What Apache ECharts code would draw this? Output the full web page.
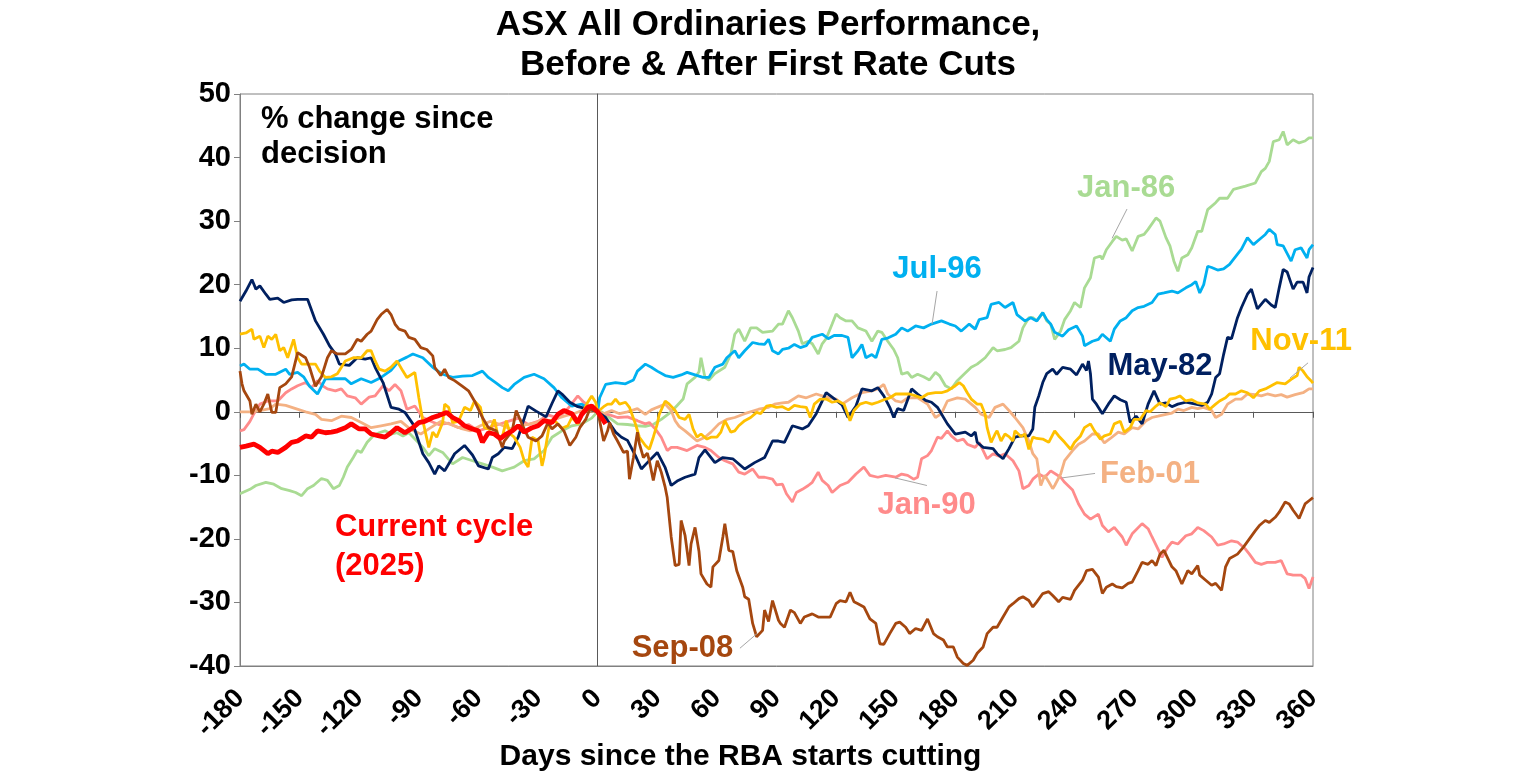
<!DOCTYPE html>
<html><head><meta charset="utf-8">
<script src="https://cdn.jsdelivr.net/npm/echarts@6.0.0/dist/echarts.min.js"></script>
<style>html,body{margin:0;padding:0;background:#fff}#c{width:1536px;height:775px}</style>
</head><body><div id="c"></div>
<script>
// ---------- data (day since first cut, % change since decision) ----------
const xRange = [-180, 360, 30];
const yRange = [-40, 50, 10];

const may82 = [[-180,17.4],[-177,19.0],[-174,20.8],[-172,19.3],[-170,19.8],[-167,18.5],[-165,17.7],[-161,17.9],[-158,17.2],[-154,17.6],[-151,17.7],[-146,17.7],[-142,14.3],[-138,12.2],[-135,10.4],[-132,9.1],[-130,7.5],[-125,7.3],[-121,8.5],[-117,8.3],[-114,8.5],[-112,7.0],[-108,4.6],[-104,0.7],[-100,0.4],[-97,-0.1],[-93,-1.9],[-88,-6.6],[-85,-8.0],[-82,-9.8],[-80,-8.5],[-77,-9.3],[-74,-7.7],[-72,-6.6],[-67,-5.3],[-63,-6.8],[-60,-8.5],[-55,-9.0],[-53,-7.2],[-50,-6.6],[-47,-5.6],[-43,-5.8],[-40,-4.0],[-35,0.9],[-31,0.1],[-26,-0.8],[-23,1.3],[-20,3.3],[-18,2.8],[-14,1.5],[-10,0.8],[-3,0.3],[0,0],[4,-0.9],[9,-3.2],[12,-4.0],[15,-4.5],[19,-6.9],[22,-9.0],[25,-8.0],[30,-6.4],[34,-8.8],[37,-11.6],[40,-10.9],[44,-10.3],[49,-9.8],[51,-7.2],[54,-6.0],[59,-8.0],[63,-7.2],[68,-7.4],[74,-9.0],[79,-8.0],[84,-7.2],[88,-4.6],[91,-4.6],[94,-4.8],[98,-2.2],[103,-2.7],[106,-2.2],[110,-0.3],[115,3.0],[118,2.3],[123,1.1],[126,-0.9],[130,0.9],[133,3.6],[138,3.3],[141,3.8],[144,2.5],[147,0.7],[149,-0.9],[151,0.5],[154,0.2],[158,3.6],[161,2.8],[165,1.8],[168,1.5],[171,0.7],[176,-1.9],[180,-3.5],[185,-3.2],[188,-3.8],[190,-3.2],[191,-4.8],[194,-5.6],[199,-5.8],[201,-6.6],[204,-7.4],[207,-5.8],[210,-4.0],[213,-3.8],[217,-3.8],[219,-2.7],[220,0.7],[222,2.5],[224,4.6],[226,6.0],[229,6.7],[231,5.9],[234,7.0],[238,6.7],[241,5.8],[244,7.5],[246,6.5],[247,8.0],[248,6.0],[249,2.0],[251,1.2],[254,-0.3],[257,1.2],[260,2.5],[263,1.9],[266,1.5],[268,-1.7],[271,-0.7],[274,-1.9],[277,1.2],[280,3.3],[283,1.2],[286,1.4],[289,0.8],[292,1.2],[296,1.5],[301,1.2],[304,1.0],[307,1.5],[309,2.8],[311,5.4],[313,6.0],[315,9.0],[317,11.7],[319,11.5],[322,14.8],[324,16.4],[327,18.5],[329,19.3],[332,16.2],[336,17.7],[339,16.8],[341,16.4],[343,19.5],[345,22.4],[347,22.0],[350,19.3],[352,20.4],[355,20.4],[357,18.7],[358,21.2],[360,22.7]];

const jan86 = [[-180,-12.9],[-175,-12.2],[-172,-11.6],[-167,-11.1],[-163,-11.4],[-159,-12.1],[-155,-12.4],[-152,-12.7],[-149,-13.2],[-146,-12.1],[-143,-11.6],[-139,-10.5],[-136,-10.8],[-133,-12.1],[-130,-11.6],[-128,-10.3],[-126,-8.7],[-123,-7.2],[-121,-6.1],[-119,-6.4],[-116,-4.8],[-113,-3.8],[-110,-3.3],[-107,-3.0],[-104,-3.5],[-101,-3.3],[-98,-3.8],[-95,-3.3],[-91,-4.6],[-88,-5.6],[-85,-6.9],[-82,-5.8],[-78,-6.4],[-73,-8.2],[-68,-7.2],[-63,-7.7],[-58,-8.2],[-53,-8.7],[-48,-9.3],[-45,-9.0],[-42,-8.7],[-37,-7.7],[-32,-7.4],[-27,-6.1],[-23,-4.0],[-18,-3.0],[-13,-2.2],[-8,-1.9],[-3,-1.0],[0,0],[2,0],[7,-1.2],[10,-1.9],[15,-2.0],[20,-2.2],[24,-2.3],[28,-2.0],[32,-1.2],[37,0],[40,1.0],[43,2.0],[45,4.4],[49,5.4],[51,6.3],[52,8.5],[54,5.4],[56,5.0],[59,6.0],[64,7.0],[67,9.1],[69,12.2],[71,13.0],[74,11.1],[77,13.2],[80,13.2],[83,12.5],[88,12.7],[91,13.8],[93,13.8],[96,15.9],[98,14.8],[101,12.7],[103,10.7],[106,11.1],[108,10.7],[111,9.1],[113,10.7],[115,11.5],[118,13.8],[120,15.4],[122,14.8],[125,14.3],[128,14.3],[131,13.2],[135,12.7],[138,11.1],[141,12.7],[143,12.5],[146,11.1],[149,9.8],[151,8.5],[153,5.9],[156,6.2],[158,5.4],[161,5.9],[164,5.5],[167,5.0],[170,6.2],[172,5.7],[175,4.1],[178,3.6],[181,4.9],[185,6.1],[188,7.0],[191,7.5],[195,8.5],[199,10.1],[201,9.6],[205,9.8],[208,10.1],[212,11.1],[214,13.2],[217,14.8],[219,14.8],[221,14.3],[224,15.6],[226,14.3],[228,13.8],[230,11.4],[233,12.7],[235,14.5],[238,15.9],[240,17.2],[243,16.4],[245,19.5],[248,21.1],[250,24.2],[253,24.5],[254,24.0],[256,25.5],[259,26.8],[261,27.6],[264,27.0],[266,27.2],[269,25.3],[272,27.6],[275,27.9],[277,28.7],[281,30.5],[283,30.0],[286,27.4],[288,26.1],[290,23.7],[292,22.1],[294,24.2],[297,24.7],[299,25.8],[302,28.4],[304,28.4],[307,31.8],[311,32.9],[313,33.6],[317,33.6],[320,35.0],[326,35.5],[331,36.0],[334,37.8],[336,38.3],[338,39.4],[340,42.5],[343,42.8],[345,44.1],[347,42.0],[350,42.8],[353,42.3],[356,42.6],[358,43.1],[360,43.1]];

const jan90 = [[-180,-3.0],[-178,-2.8],[-175,-1.5],[-173,-0.3],[-170,1.2],[-166,1.7],[-161,1.7],[-157,3.0],[-154,3.6],[-151,4.1],[-147,4.6],[-144,3.8],[-141,4.9],[-138,4.0],[-136,3.6],[-132,3.3],[-129,3.6],[-126,2.5],[-122,2.2],[-119,1.2],[-115,2.3],[-112,2.5],[-108,4.1],[-105,3.3],[-102,4.3],[-99,3.3],[-96,0.4],[-92,0.9],[-88,-0.9],[-84,-1.5],[-80,-2.0],[-75,-1.8],[-70,-2.5],[-65,-2.0],[-60,-3.0],[-55,-2.5],[-50,-2.0],[-45,-1.5],[-40,-1.0],[-35,-2.0],[-30,-1.5],[-25,-0.5],[-20,-1.0],[-15,0.5],[-10,2.5],[-7,1.5],[-4,0.8],[0,0],[2,-0.2],[6,-0.5],[10,-0.9],[15,-0.8],[20,-1.4],[24,-1.9],[26,-1.7],[29,-2.7],[32,-4.0],[35,-6.1],[37,-5.6],[40,-5.6],[45,-6.1],[50,-5.3],[54,-5.6],[57,-6.1],[61,-7.2],[64,-7.7],[68,-8.2],[71,-9.5],[74,-9.8],[78,-9.0],[81,-10.3],[84,-10.3],[88,-10.6],[90,-11.5],[93,-11.4],[95,-12.9],[98,-14.2],[100,-12.7],[103,-12.2],[106,-11.6],[108,-11.1],[111,-9.5],[113,-10.8],[116,-11.6],[118,-12.7],[122,-11.6],[126,-11.1],[130,-9.8],[134,-8.7],[137,-10.0],[141,-10.3],[145,-10.0],[150,-10.3],[153,-9.8],[156,-10.0],[159,-10.6],[161,-10.3],[163,-7.4],[166,-6.9],[168,-6.1],[171,-4.0],[173,-4.2],[176,-3.0],[178,-3.8],[181,-4.6],[184,-4.3],[186,-5.1],[190,-5.6],[192,-4.8],[196,-7.4],[199,-6.6],[202,-7.0],[205,-6.6],[209,-7.7],[212,-9.3],[214,-12.1],[217,-11.6],[219,-10.6],[222,-9.8],[225,-10.3],[228,-9.3],[233,-10.3],[235,-11.1],[239,-12.3],[242,-14.5],[245,-16.1],[248,-16.9],[252,-16.1],[254,-17.9],[257,-18.9],[260,-18.2],[264,-19.7],[266,-21.0],[269,-19.2],[274,-17.6],[277,-18.4],[279,-19.7],[282,-21.6],[284,-22.9],[287,-21.3],[289,-20.5],[292,-20.8],[296,-19.5],[299,-19.2],[302,-18.2],[305,-18.7],[309,-19.7],[312,-21.0],[315,-20.8],[319,-20.3],[322,-20.5],[326,-21.6],[328,-22.4],[331,-23.7],[334,-24.0],[337,-23.7],[341,-23.7],[344,-23.4],[347,-25.5],[350,-25.7],[354,-25.7],[356,-26.2],[358,-27.8],[360,-26.0]];

const jul96 = [[-180,7.2],[-178,7.5],[-175,6.7],[-171,6.7],[-167,5.9],[-162,5.9],[-157,6.7],[-155,5.9],[-151,6.2],[-148,5.5],[-145,4.0],[-141,2.8],[-137,5.2],[-132,5.2],[-127,5.2],[-124,4.4],[-119,5.2],[-114,4.6],[-109,5.4],[-104,6.5],[-100,8.0],[-96,8.6],[-93,9.1],[-88,8.5],[-83,7.0],[-78,5.9],[-73,5.4],[-68,5.6],[-63,5.7],[-58,6.4],[-55,5.4],[-51,4.5],[-48,3.8],[-45,3.3],[-42,4.3],[-37,5.4],[-32,5.9],[-27,5.2],[-22,3.8],[-18,2.2],[-13,0.9],[-8,1.2],[-3,0.3],[0,0],[1,2.2],[4,4.3],[9,4.6],[14,4.4],[18,5.0],[20,6.4],[24,7.5],[27,7.0],[30,6.4],[34,5.7],[38,5.4],[42,5.8],[45,6.2],[49,5.8],[53,5.4],[56,5.4],[59,7.0],[63,7.5],[65,8.5],[69,9.6],[71,8.5],[74,9.6],[78,10.9],[81,10.7],[84,10.6],[86,11.4],[88,9.6],[91,9.1],[93,9.8],[96,10.0],[99,10.6],[102,10.1],[105,10.4],[108,11.7],[113,12.2],[116,11.5],[119,12.0],[123,12.0],[126,11.7],[128,8.5],[131,9.6],[133,10.6],[135,8.5],[138,9.0],[140,8.5],[143,11.4],[146,11.6],[150,12.2],[153,13.2],[156,12.7],[160,13.5],[164,13.2],[168,13.8],[173,14.3],[177,13.8],[180,13.5],[183,12.7],[187,13.8],[190,13.0],[192,14.5],[196,14.8],[198,16.9],[202,17.2],[205,16.4],[209,17.2],[211,15.3],[215,14.3],[218,14.8],[221,14.3],[224,15.6],[226,14.5],[228,13.8],[230,12.5],[234,11.9],[237,12.9],[241,13.5],[244,11.9],[245,10.4],[249,11.1],[252,11.4],[254,12.2],[258,11.1],[260,13.0],[263,14.3],[266,14.8],[269,15.9],[272,16.4],[275,16.6],[279,17.2],[282,18.5],[285,18.7],[289,19.0],[292,18.7],[296,19.5],[299,20.0],[301,20.5],[303,18.7],[305,20.0],[307,22.9],[309,22.7],[312,22.3],[315,22.5],[318,23.2],[322,24.8],[324,25.6],[327,27.4],[330,26.3],[333,27.1],[336,27.9],[338,28.7],[341,27.9],[342,26.3],[345,26.1],[349,23.7],[351,25.5],[354,25.8],[357,24.2],[358,25.5],[360,26.3]];

const feb01 = [[-180,0],[-175,0],[-170,0.2],[-165,0.5],[-162,1.2],[-157,1.0],[-152,0.5],[-147,0],[-142,-0.4],[-139,-1.2],[-134,-1.4],[-129,-0.7],[-124,-0.9],[-119,-1.7],[-114,-2.5],[-109,-2.2],[-104,-1.9],[-99,-1.5],[-94,-2.8],[-89,-3.5],[-84,-2.5],[-79,-1.5],[-74,-2.0],[-69,-2.6],[-64,-3.0],[-59,-2.2],[-54,-1.5],[-49,-2.0],[-44,-2.7],[-39,-2.2],[-34,-1.9],[-31,-1.7],[-27,-1.2],[-24,-1.4],[-20,-1.0],[-16,-0.6],[-12,-0.3],[-8,0.2],[-4,0.1],[0,0],[3,-0.3],[7,0.2],[11,-0.3],[15,0],[20,0.5],[24,-0.4],[27,0.3],[30,0.7],[34,1.2],[37,0.2],[39,-1.4],[41,-2.3],[44,-3.0],[47,-3.8],[50,-4.6],[54,-4.0],[57,-3.2],[61,-1.9],[65,-1.2],[69,-0.9],[74,-0.3],[81,0.4],[86,0.7],[89,1.2],[93,1.4],[96,1.5],[101,2.5],[105,2.2],[110,2.8],[115,2.3],[120,2.0],[123,1.2],[128,2.2],[133,3.0],[138,3.3],[141,3.6],[144,4.3],[146,2.8],[150,1.7],[153,1.5],[156,2.2],[161,2.2],[166,1.2],[170,-0.9],[173,-0.3],[176,1.7],[181,2.2],[185,2.0],[190,0.7],[193,-0.4],[197,-0.9],[200,0.7],[204,1.2],[207,0.2],[210,-0.9],[214,-2.5],[217,-4.6],[219,-6.6],[221,-7.4],[223,-11.6],[225,-10.0],[227,-11.0],[229,-12.1],[230,-11.6],[233,-9.8],[235,-7.7],[239,-6.1],[242,-5.1],[245,-4.6],[249,-3.5],[252,-3.5],[255,-4.9],[258,-4.2],[262,-3.2],[265,-3.5],[269,-2.5],[272,-2.7],[276,-1.4],[279,-0.9],[282,-0.7],[286,-0.4],[289,-0.2],[292,0.4],[295,0.2],[299,0.7],[302,0.5],[305,0.7],[309,0.2],[311,-0.9],[314,-0.4],[317,1.2],[321,2.0],[324,2.0],[327,2.8],[331,2.7],[334,2.5],[337,2.8],[341,2.5],[344,2.7],[347,2.3],[351,2.7],[355,3.0],[358,3.6],[360,3.6]];

const sep08 = [[-180,6.4],[-179,4.4],[-178,3.3],[-175,1.7],[-174,-0.4],[-172,1.2],[-170,0],[-168,1.2],[-166,2.8],[-164,-0.1],[-162,-0.1],[-160,3.8],[-157,4.4],[-154,5.5],[-151,9.3],[-147,8.5],[-145,7.0],[-142,4.0],[-141,4.3],[-139,5.5],[-136,8.5],[-134,9.6],[-131,9.1],[-127,9.1],[-124,9.8],[-121,11.4],[-119,11.1],[-116,12.2],[-114,12.7],[-111,14.5],[-109,15.3],[-106,16.1],[-104,15.3],[-102,13.8],[-100,13.0],[-97,12.7],[-95,11.7],[-92,11.4],[-89,10.1],[-86,9.8],[-83,8.8],[-82,7.0],[-79,5.7],[-77,6.7],[-75,5.4],[-72,4.9],[-68,4.0],[-65,3.3],[-62,1.7],[-58,-0.9],[-55,-2.5],[-51,-3.0],[-48,-5.6],[-47,-4.6],[-43,-3.0],[-41,0.2],[-38,-2.0],[-35,-4.0],[-31,-4.6],[-28,-3.8],[-25,-1.7],[-23,-2.7],[-20,-1.9],[-17,-3.0],[-14,-5.3],[-11,-4.0],[-9,-2.5],[-6,-1.2],[-4,0.4],[0,0],[1,-1.4],[3,-4.6],[5,-3.0],[6,-1.7],[8,-3.5],[10,-4.6],[13,-6.4],[15,-6.2],[16,-10.6],[18,-7.2],[20,-3.2],[21,-5.0],[23,-7.2],[25,-6.5],[26,-7.7],[28,-10.8],[30,-7.7],[32,-9.5],[34,-11.9],[35,-13.5],[37,-19.7],[39,-24.2],[41,-24.0],[42,-17.1],[44,-19.5],[46,-24.2],[47,-20.8],[49,-18.2],[51,-22.0],[52,-25.5],[55,-27.1],[57,-27.6],[58,-24.4],[61,-23.4],[63,-19.7],[64,-17.6],[66,-21.8],[68,-22.0],[70,-25.0],[73,-27.6],[74,-29.1],[76,-29.5],[78,-33.3],[80,-35.4],[83,-34.4],[84,-31.2],[86,-33.0],[88,-29.7],[89,-29.7],[91,-32.8],[92,-33.3],[94,-33.9],[97,-31.2],[99,-31.6],[102,-33.3],[104,-32.3],[108,-31.8],[111,-32.3],[114,-32.3],[117,-32.3],[120,-30.2],[122,-29.7],[125,-29.9],[127,-28.4],[129,-29.9],[131,-30.2],[134,-30.7],[137,-32.6],[140,-33.3],[142,-36.5],[144,-36.6],[147,-34.9],[150,-33.3],[152,-33.1],[155,-33.9],[157,-34.9],[160,-34.1],[163,-34.4],[166,-32.6],[169,-34.9],[171,-35.4],[174,-35.9],[176,-37.0],[179,-37.0],[181,-38.6],[184,-39.6],[186,-39.9],[189,-39.1],[191,-38.0],[194,-37.0],[196,-34.9],[199,-33.9],[201,-33.9],[204,-32.3],[207,-30.7],[209,-30.2],[212,-29.4],[214,-29.1],[217,-29.7],[219,-30.7],[221,-29.9],[224,-28.6],[227,-28.3],[229,-28.9],[232,-29.9],[234,-29.2],[238,-29.5],[240,-28.1],[244,-26.5],[246,-25.0],[249,-24.8],[252,-26.0],[254,-28.6],[256,-27.6],[259,-27.1],[261,-27.5],[264,-27.7],[267,-27.0],[269,-26.8],[272,-25.0],[274,-23.7],[277,-24.0],[279,-23.4],[281,-24.2],[283,-22.4],[285,-21.8],[287,-23.1],[289,-24.4],[291,-25.0],[294,-27.1],[297,-25.0],[299,-25.5],[302,-24.2],[303,-25.7],[306,-26.5],[309,-27.3],[311,-27.0],[314,-28.1],[316,-24.4],[318,-23.1],[322,-22.4],[325,-21.3],[328,-20.0],[331,-18.7],[333,-17.9],[336,-17.1],[338,-17.4],[341,-16.6],[343,-15.8],[346,-14.2],[348,-14.5],[350,-15.5],[353,-16.8],[354,-17.0],[356,-14.5],[358,-14.0],[360,-13.5]];

const nov11 = [[-180,12.2],[-177,12.4],[-174,13.0],[-173,11.4],[-170,11.9],[-168,10.1],[-166,11.9],[-164,11.4],[-162,12.2],[-160,9.6],[-158,10.1],[-156,8.5],[-153,11.4],[-151,8.5],[-149,7.5],[-146,7.5],[-142,7.5],[-140,6.4],[-137,5.4],[-134,5.5],[-131,6.0],[-127,8.0],[-123,8.5],[-119,8.5],[-116,9.6],[-114,9.6],[-112,8.0],[-110,6.7],[-107,6.4],[-104,7.0],[-101,8.0],[-98,6.4],[-96,5.4],[-92,6.2],[-90,2.2],[-88,-1.4],[-85,-5.6],[-83,-3.2],[-81,-4.0],[-78,-1.7],[-77,1.2],[-75,0.7],[-73,-1.7],[-70,-1.5],[-67,0.7],[-64,0.2],[-62,1.7],[-59,0.7],[-57,-2.5],[-54,-2.8],[-52,-1.2],[-50,-4.0],[-48,-4.0],[-46,-1.4],[-44,-3.5],[-42,-4.0],[-39,-5.6],[-37,-7.7],[-35,-8.7],[-33,-4.0],[-30,-4.5],[-28,-8.5],[-27,-7.2],[-24,-1.4],[-21,-1.6],[-18,-2.6],[-15,-2.2],[-13,-0.9],[-10,-1.9],[-8,-0.4],[-5,1.5],[-3,2.5],[-1,1.5],[0,0],[3,0.8],[5,1.2],[7,1.2],[9,2.0],[11,1.2],[14,1.5],[16,0.7],[19,-1.9],[21,-4.0],[24,-5.3],[26,-5.9],[28,-4.0],[30,-1.9],[31,-0.4],[34,1.7],[36,1.2],[39,0.2],[41,-0.9],[44,-1.2],[46,-0.4],[48,-2.7],[50,-4.0],[52,-3.5],[55,-4.3],[57,-4.0],[60,-4.0],[62,-3.2],[64,-1.4],[67,-3.2],[69,-3.0],[71,-2.2],[74,-1.4],[77,-0.9],[80,-0.1],[82,-0.3],[85,0.9],[87,1.0],[90,0.7],[93,0.8],[96,0.3],[99,1.0],[102,0.8],[105,0.7],[107,-0.9],[109,1.2],[112,2.0],[115,2.0],[118,1.5],[121,1.7],[124,1.2],[127,-1.4],[129,0.2],[132,1.2],[135,1.5],[138,1.2],[141,1.5],[145,2.0],[147,2.2],[150,2.8],[153,2.8],[157,2.8],[160,2.5],[163,2.2],[166,2.8],[170,3.0],[173,3.0],[176,3.3],[180,4.1],[182,4.6],[184,4.1],[186,3.0],[188,2.0],[191,1.2],[193,1.2],[195,-0.4],[196,-2.5],[198,-4.8],[200,-3.5],[201,-3.0],[203,-4.6],[205,-3.5],[207,-3.9],[209,-4.6],[210,-3.0],[213,-3.9],[215,-3.5],[217,-5.9],[219,-4.0],[221,-4.2],[224,-4.3],[227,-4.8],[230,-3.0],[232,-3.8],[235,-4.8],[238,-5.9],[240,-4.8],[243,-3.8],[245,-2.5],[248,-1.9],[250,-3.0],[253,-4.3],[255,-3.8],[258,-3.5],[260,-1.9],[263,-1.5],[265,-3.2],[268,-2.5],[270,-1.2],[273,-1.2],[276,0.2],[278,0],[281,0.9],[283,1.4],[286,0.8],[288,2.0],[291,2.2],[293,2.5],[296,1.7],[299,1.9],[302,1.4],[306,1.2],[308,0.4],[311,1.2],[313,1.7],[316,2.2],[318,2.8],[321,2.8],[324,3.3],[327,3.0],[330,2.2],[333,3.3],[336,3.6],[339,4.1],[342,4.6],[346,4.4],[349,5.1],[352,5.7],[353,7.0],[355,6.4],[357,5.5],[359,4.9],[360,4.5]];

const current2025 = [[-180,-5.6],[-177,-5.4],[-173,-5.1],[-170,-5.6],[-166,-6.6],[-164,-6.2],[-161,-6.4],[-157,-5.6],[-154,-4.8],[-151,-4.6],[-147,-3.8],[-144,-4.0],[-141,-3.0],[-137,-3.3],[-134,-3.2],[-131,-3.0],[-127,-2.5],[-124,-1.9],[-120,-2.7],[-117,-2.7],[-114,-3.5],[-110,-3.8],[-107,-4.0],[-104,-3.3],[-101,-2.5],[-97,-3.3],[-93,-2.5],[-90,-1.7],[-87,-1.5],[-83,-0.9],[-80,-0.6],[-76,-0.1],[-73,-0.9],[-70,-1.4],[-67,-2.2],[-63,-2.7],[-60,-3.0],[-58,-4.8],[-55,-3.3],[-52,-3.5],[-49,-4.2],[-46,-3.5],[-43,-3.0],[-40,-2.2],[-37,-3.2],[-33,-2.5],[-30,-2.2],[-27,-1.4],[-23,-1.7],[-20,-0.4],[-17,0.2],[-13,-0.3],[-10,-1.7],[-8,-0.4],[-5,0.7],[-3,0.9],[0,0],[2,-0.9],[4,-1.9]];

const titleLines = ['ASX All Ordinaries Performance,', 'Before & After First Rate Cuts'];
const yNote = ['% change since', 'decision'];
const xName = 'Days since the RBA starts cutting';

// ---------- styling & layout ----------
const FONT = "'Liberation Sans', Arial, Helvetica, sans-serif";
const LEADER = '#A6A6A6';

const defs = [
  {name:'Jan-86', data:jan86, color:'#A9DB93', w:2.8, lab:[266,35.1], lead:[[266.4,31.9],[258.9,27.3]]},
  {name:'Jan-90', data:jan90, color:'#FF8B8B', w:2.8, lab:[165.5,-14.8], lead:[[149.6,-10.4],[165.7,-11.6]]},
  {name:'Feb-01', data:feb01, color:'#F4B183', w:2.8, lab:[278,-9.9], lead:[[233.7,-10.4],[250.3,-9.7]]},
  {name:'Jul-96', data:jul96, color:'#00B0F0', w:2.8, lab:[170.8,22.4], lead:[[168.3,13.8],[170.8,19.0]]},
  {name:'May-82', data:may82, color:'#002060', w:2.8, lab:[283,7.2], lead:null},
  {name:'Nov-11', data:nov11, color:'#FFC000', w:2.8, lab:[354,11.0], lead:[[348.4,5.3],[357.5,7.7]]},
  {name:'Sep-08', data:sep08, color:'#A5470F', w:2.8, lab:[42.7,-37.2], lead:[[71.6,-37.2],[80.2,-34.9]]},
  {name:'Current cycle\n(2025)', data:current2025, color:'#FF0000', w:4.8, lab:[-132.2,-21.2], lead:null, left:true}
];

const series = defs.map(d => {
  const s = {
    type:'line', name:d.name, data:d.data, showSymbol:false, symbol:'none',
    lineStyle:{color:d.color, width:d.w}, itemStyle:{color:d.color},
    clip:true, z: d.left ? 5 : 2,
    markPoint:{
      symbol:'circle', symbolSize:0, silent:true, animation:false,
      data:[{coord:d.lab}],
      label:{show:true, position: d.left ? 'right' : 'inside', distance:0,
        formatter:d.name, color:d.color, fontFamily:FONT, fontSize:31, fontWeight:'bold',
        lineHeight:39, align: d.left ? 'left' : 'center', verticalAlign:'middle'}
    }
  };
  if (d.lead) {
    s.markLine = {silent:true, animation:false, symbol:['none','none'],
      lineStyle:{color:LEADER, width:1, type:'solid'}, label:{show:false},
      data:[[{coord:d.lead[0]},{coord:d.lead[1]}]]};
  }
  return s;
});

const axisLabelFont = {fontFamily:FONT, fontWeight:'bold', color:'#000'};

const option = {
  animation:false,
  backgroundColor:'#fff',
  title:[
    {text:titleLines.join('\n'), left:'center', top:5, padding:0,
     textStyle:{fontFamily:FONT, fontSize:35, fontWeight:'bold', color:'#000', lineHeight:40}},
    {text:yNote.join('\n'), left:261, top:102, padding:0,
     textStyle:{fontFamily:FONT, fontSize:31, fontWeight:'bold', color:'#000', lineHeight:35}}
  ],
  grid:{left:240, right:223, top:94, bottom:109, show:true, borderColor:'#808080', borderWidth:1,
        containLabel:false, outerBoundsMode:'none'},
  xAxis:[
    {type:'value', min:xRange[0], max:xRange[1], interval:xRange[2], position:'bottom',
     axisLine:{show:true, onZero:false, lineStyle:{color:'#808080', width:1}},
     axisTick:{show:false}, splitLine:{show:false},
     axisLabel:Object.assign({rotate:45, fontSize:27, margin:28}, axisLabelFont),
     name:xName, nameLocation:'middle', nameGap:76, nameMoveOverlap:false,
     nameTextStyle:{fontFamily:FONT, fontSize:30, fontWeight:'bold', color:'#000', padding:[0,72,0,0]}},
    {type:'value', min:xRange[0], max:xRange[1], interval:xRange[2], position:'bottom',
     axisLine:{show:true, onZero:true, lineStyle:{color:'#595959', width:1}},
     axisTick:{show:true, inside:false, length:6, lineStyle:{color:'#595959'}},
     axisLabel:{show:false}, splitLine:{show:false}}
  ],
  yAxis:[
    {type:'value', min:yRange[0], max:yRange[1], interval:yRange[2], position:'left',
     axisLine:{show:true, onZero:false, lineStyle:{color:'#808080', width:1}},
     axisTick:{show:true, inside:false, length:6, lineStyle:{color:'#808080'}},
     axisLabel:Object.assign({fontSize:29, margin:9}, axisLabelFont), splitLine:{show:false}},
    {type:'value', min:yRange[0], max:yRange[1], interval:yRange[2], position:'left',
     axisLine:{show:true, onZero:true, lineStyle:{color:'#595959', width:1}},
     axisTick:{show:false}, axisLabel:{show:false}, splitLine:{show:false}}
  ],
  series: series
};

const chart = echarts.init(document.getElementById('c'), null, {renderer:'canvas'});
chart.setOption(option);
</script>
</body></html>
